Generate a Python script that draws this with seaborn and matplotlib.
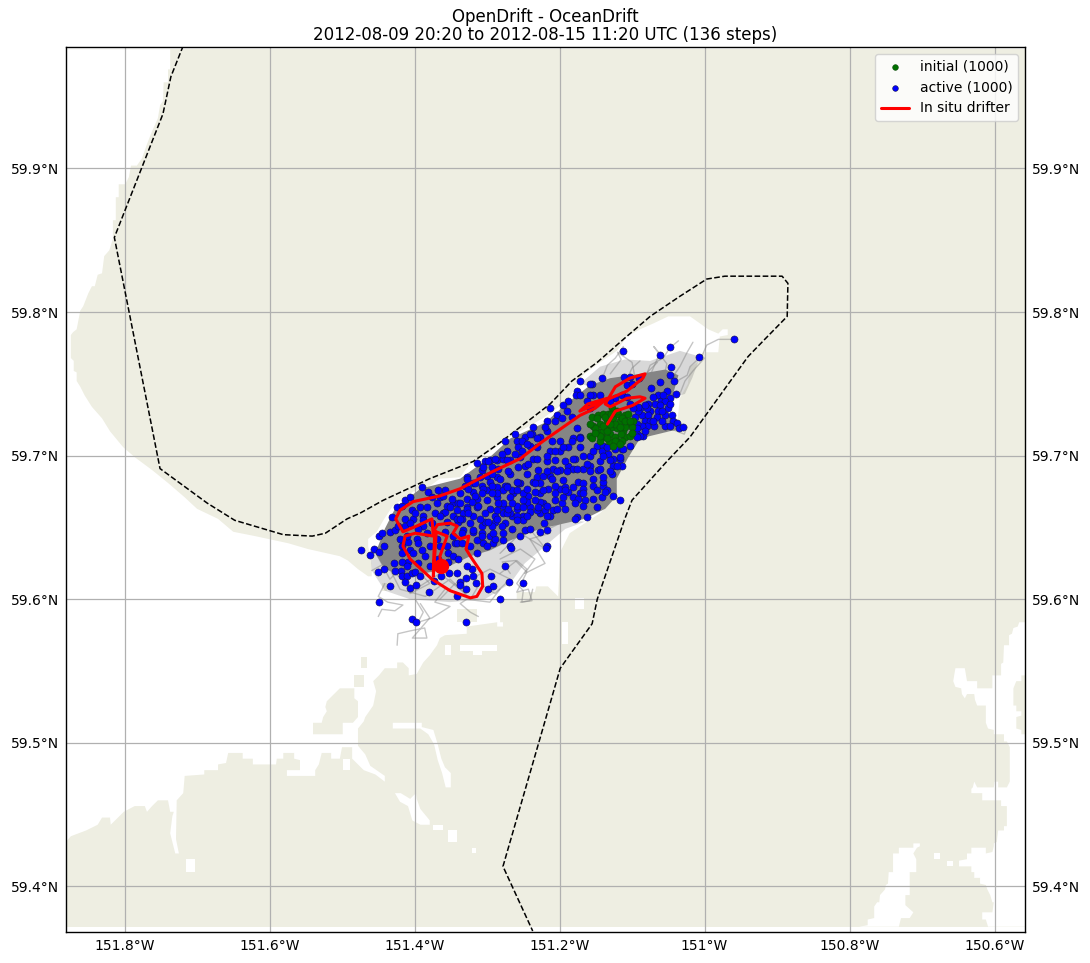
import matplotlib
matplotlib.use('Agg')
import matplotlib.pyplot as plt
import pandas as pd
import seaborn as sns

title = 'OpenDrift - OceanDrift\n2012-08-09 20:20 to 2012-08-15 11:20 UTC (136 steps)'
lon_ticks = [-151.8, -151.6, -151.4, -151.2, -151.0, -150.8, -150.6]
lon_labels = ['151.8°W', '151.6°W', '151.4°W', '151.2°W', '151°W', '150.8°W', '150.6°W']
lat_ticks = [59.4, 59.5, 59.6, 59.7, 59.8, 59.9]
lat_labels = ['59.4°N', '59.5°N', '59.6°N', '59.7°N', '59.8°N', '59.9°N']
lon_limits = (-151.8807, -150.558)
lat_limits = (59.3683, 59.9846)

# land extent, the water is cut out of it
land_lon = [-151.881, -150.558, -150.558, -151.881]
land_lat = [59.372, 59.372, 59.983, 59.983]

# inlet
water_lon = [-151.881, -151.737, -151.737, -151.740, -151.740, -151.746, -151.747, -151.751, -151.754, -151.762,
             -151.769, -151.776, -151.783, -151.791, -151.794, -151.799, -151.808, -151.808, -151.812, -151.812,
             -151.816, -151.816, -151.821, -151.828, -151.831, -151.837, -151.841, -151.845, -151.850, -151.857,
             -151.861, -151.866, -151.871, -151.874, -151.874, -151.870, -151.870, -151.866, -151.866, -151.861,
             -151.855, -151.845, -151.831, -151.820, -151.802, -151.786, -151.762, -151.740, -151.717, -151.700,
             -151.671, -151.650, -151.620, -151.574, -151.547, -151.503, -151.492, -151.478, -151.464, -151.459,
             -151.459, -151.464, -151.464, -151.452, -151.443, -151.430, -151.402, -151.381, -151.365, -151.337,
             -151.330, -151.323, -151.312, -151.296, -151.272, -151.223, -151.190, -151.168, -151.144, -151.121,
             -151.107, -151.089, -151.071, -151.050, -151.020, -151.006, -150.995, -150.981, -150.975, -150.968,
             -150.968, -150.979, -150.981, -151.002, -151.006, -151.020, -151.023, -151.034, -151.037, -151.045,
             -151.075, -151.089, -151.106, -151.121, -151.121, -151.130, -151.144, -151.165, -151.186, -151.199,
             -151.202, -151.216, -151.232, -151.234, -151.259, -151.259, -151.282, -151.282, -151.278, -151.278,
             -151.286, -151.286, -151.328, -151.328, -151.358, -151.365, -151.369, -151.379, -151.388, -151.397,
             -151.408, -151.408, -151.416, -151.424, -151.424, -151.441, -151.449, -151.457, -151.453, -151.457,
             -151.468, -151.470, -151.478, -151.478, -151.468, -151.461, -151.441, -151.441, -151.454, -151.470,
             -151.478, -151.486, -151.486, -151.500, -151.503, -151.515, -151.515, -151.528, -151.532, -151.537,
             -151.537, -151.576, -151.576, -151.558, -151.558, -151.566, -151.566, -151.581, -151.581, -151.590,
             -151.591, -151.623, -151.623, -151.637, -151.637, -151.657, -151.660, -151.671, -151.671, -151.690,
             -151.690, -151.717, -151.719, -151.728, -151.729, -151.725, -151.730, -151.737, -151.734, -151.732,
             -151.737, -151.740, -151.754, -151.762, -151.769, -151.772, -151.786, -151.801, -151.819, -151.820,
             -151.831, -151.837, -151.853, -151.874, -151.881]
water_lat = [59.983, 59.983, 59.969, 59.969, 59.960, 59.960, 59.947, 59.944, 59.935, 59.926,
             59.917, 59.907, 59.902, 59.902, 59.894, 59.889, 59.889, 59.880, 59.880, 59.864,
             59.864, 59.851, 59.843, 59.839, 59.827, 59.826, 59.818, 59.818, 59.813, 59.804,
             59.801, 59.788, 59.786, 59.784, 59.768, 59.766, 59.759, 59.758, 59.752, 59.748,
             59.742, 59.734, 59.726, 59.717, 59.706, 59.699, 59.690, 59.681, 59.671, 59.663,
             59.656, 59.647, 59.644, 59.639, 59.635, 59.630, 59.627, 59.621, 59.616, 59.616,
             59.625, 59.637, 59.642, 59.647, 59.655, 59.665, 59.675, 59.678, 59.684, 59.685,
             59.690, 59.694, 59.697, 59.703, 59.712, 59.726, 59.738, 59.756, 59.765, 59.773,
             59.783, 59.788, 59.792, 59.797, 59.797, 59.792, 59.788, 59.785, 59.788, 59.788,
             59.784, 59.783, 59.772, 59.772, 59.766, 59.762, 59.750, 59.740, 59.726, 59.717,
             59.715, 59.712, 59.698, 59.685, 59.672, 59.667, 59.660, 59.653, 59.646, 59.633,
             59.602, 59.609, 59.609, 59.605, 59.605, 59.600, 59.600, 59.584, 59.584, 59.581,
             59.581, 59.584, 59.581, 59.576, 59.575, 59.573, 59.568, 59.561, 59.556, 59.548,
             59.547, 59.552, 59.556, 59.556, 59.552, 59.552, 59.547, 59.543, 59.536, 59.526,
             59.518, 59.515, 59.510, 59.498, 59.492, 59.484, 59.477, 59.473, 59.478, 59.481,
             59.485, 59.489, 59.497, 59.497, 59.489, 59.489, 59.493, 59.493, 59.485, 59.481,
             59.477, 59.477, 59.481, 59.481, 59.488, 59.489, 59.493, 59.493, 59.489, 59.489,
             59.485, 59.485, 59.489, 59.489, 59.493, 59.493, 59.486, 59.485, 59.481, 59.481,
             59.478, 59.477, 59.465, 59.460, 59.433, 59.423, 59.423, 59.437, 59.449, 59.452,
             59.452, 59.460, 59.460, 59.456, 59.452, 59.456, 59.456, 59.452, 59.443, 59.448,
             59.448, 59.443, 59.439, 59.435, 59.431]

# right hand bay
bay_lon = [-150.558, -150.566, -150.568, -150.574, -150.576, -150.580, -150.580, -150.587, -150.588, -150.591,
           -150.591, -150.603, -150.603, -150.624, -150.624, -150.638, -150.641, -150.654, -150.657, -150.654,
           -150.646, -150.645, -150.641, -150.638, -150.628, -150.627, -150.624, -150.612, -150.612, -150.609,
           -150.601, -150.601, -150.587, -150.587, -150.583, -150.579, -150.579, -150.583, -150.595, -150.595,
           -150.600, -150.601, -150.624, -150.628, -150.630, -150.632, -150.632, -150.617, -150.617, -150.591,
           -150.591, -150.583, -150.583, -150.587, -150.587, -150.595, -150.597, -150.601, -150.601, -150.603,
           -150.612, -150.612, -150.632, -150.632, -150.638, -150.638, -150.649, -150.649, -150.632, -150.632,
           -150.628, -150.628, -150.620, -150.620, -150.612, -150.610, -150.606, -150.603, -150.601, -150.603,
           -150.617, -150.617, -150.612, -150.609, -150.558]
bay_lat = [59.584, 59.584, 59.581, 59.580, 59.576, 59.575, 59.568, 59.568, 59.556, 59.555,
           59.547, 59.547, 59.538, 59.538, 59.543, 59.543, 59.552, 59.552, 59.543, 59.539,
           59.538, 59.534, 59.531, 59.534, 59.534, 59.530, 59.526, 59.526, 59.514, 59.510,
           59.509, 59.506, 59.506, 59.501, 59.501, 59.497, 59.473, 59.469, 59.469, 59.473,
           59.473, 59.469, 59.469, 59.473, 59.469, 59.468, 59.465, 59.465, 59.460, 59.460,
           59.456, 59.456, 59.442, 59.442, 59.439, 59.439, 59.431, 59.430, 59.428, 59.424,
           59.423, 59.427, 59.427, 59.423, 59.423, 59.419, 59.418, 59.414, 59.414, 59.410,
           59.410, 59.406, 59.406, 59.402, 59.401, 59.398, 59.394, 59.389, 59.389, 59.382,
           59.382, 59.377, 59.377, 59.372, 59.372]

channel_lon = [-150.732, -150.729, -150.717, -150.712, -150.723, -150.723, -150.717, -150.717, -150.708, -150.708,
               -150.712, -150.707, -150.703, -150.703, -150.712, -150.712, -150.732, -150.732, -150.740, -150.740,
               -150.746, -150.747, -150.750, -150.751, -150.758, -150.759, -150.762, -150.766, -150.766, -150.775,
               -150.775, -150.787]
channel_lat = [59.372, 59.378, 59.378, 59.382, 59.387, 59.394, 59.394, 59.410, 59.410, 59.419,
               59.423, 59.427, 59.428, 59.430, 59.430, 59.427, 59.427, 59.423, 59.423, 59.410,
               59.410, 59.402, 59.401, 59.398, 59.394, 59.389, 59.389, 59.386, 59.378, 59.377,
               59.373, 59.372]

strip1_lon = [-151.430, -151.390, -151.390, -151.374, -151.368, -151.363, -151.358, -151.350, -151.350, -151.357,
              -151.362, -151.368, -151.373, -151.381, -151.392, -151.430]
strip1_lat = [59.514, 59.514, 59.511, 59.509, 59.499, 59.489, 59.483, 59.479, 59.469, 59.469,
              59.479, 59.488, 59.499, 59.506, 59.510, 59.510]
strip2_lon = [-151.427, -151.419, -151.406, -151.398, -151.397, -151.392, -151.379, -151.379, -151.392, -151.403,
              -151.409, -151.420]
strip2_lat = [59.465, 59.465, 59.461, 59.465, 59.461, 59.454, 59.446, 59.443, 59.443, 59.446,
              59.456, 59.459]
strip3_lon = [-151.337, -151.286, -151.286, -151.307, -151.307, -151.319, -151.319, -151.337]
strip3_lat = [59.568, 59.568, 59.564, 59.564, 59.561, 59.561, 59.564, 59.564]

# small water cells: lon0, lon1, lat0, lat1
pond_lon0 = [-151.358, -151.197, -151.179, -151.374, -151.354, -151.321, -151.499, -151.715, -150.683, -150.666]
pond_lon1 = [-151.350, -151.188, -151.166, -151.361, -151.341, -151.315, -151.489, -151.703, -150.675, -150.657]
pond_lat0 = [59.561, 59.569, 59.593, 59.439, 59.431, 59.423, 59.481, 59.410, 59.419, 59.414]
pond_lat1 = [59.568, 59.584, 59.601, 59.443, 59.439, 59.427, 59.489, 59.419, 59.423, 59.418]

island_lon = [-151.540, -151.540, -151.528, -151.526, -151.521, -151.523, -151.521, -151.511, -151.503, -151.483,
              -151.483, -151.478, -151.478, -151.485, -151.499, -151.499]
island_lat = [59.506, 59.514, 59.514, 59.518, 59.522, 59.525, 59.529, 59.534, 59.538, 59.538,
              59.531, 59.529, 59.518, 59.514, 59.514, 59.506]
island2_lon = [-150.558, -150.563, -150.563, -150.570, -150.574, -150.574, -150.570, -150.570, -150.563, -150.563,
               -150.570, -150.570, -150.563, -150.563, -150.558]
island2_lat = [59.547, 59.547, 59.543, 59.543, 59.538, 59.526, 59.526, 59.522, 59.522, 59.519,
               59.518, 59.510, 59.509, 59.506, 59.506]
# small land cells: lon0, lon1, lat0, lat1
islet_lon0 = [-151.483, -151.474, -151.341, -151.445]
islet_lon1 = [-151.470, -151.466, -151.314, -151.438]
islet_lat0 = [59.539, 59.552, 59.584, 59.606]
islet_lat1 = [59.547, 59.560, 59.593, 59.611]

# model domain outline
domain_lon = [-151.719, -151.736, -151.747, -151.814, -151.751, -151.686, -151.648, -151.581, -151.541, -151.523,
              -151.493, -151.475, -151.443, -151.379, -151.319, -151.285, -151.254, -151.213, -151.183, -151.148,
              -151.112, -151.075, -151.034, -150.997, -150.972, -150.893, -150.885, -150.886, -150.917, -150.940,
              -151.020, -151.052, -151.100, -151.110, -151.148, -151.155, -151.199, -151.227, -151.278, -151.237]
domain_lat = [59.9855, 59.964, 59.938, 59.852, 59.691, 59.667, 59.655, 59.645, 59.644, 59.646,
              59.656, 59.660, 59.669, 59.684, 59.696, 59.708, 59.720, 59.736, 59.752, 59.765,
              59.781, 59.797, 59.811, 59.823, 59.825, 59.825, 59.820, 59.797, 59.781, 59.769,
              59.713, 59.696, 59.669, 59.656, 59.600, 59.583, 59.552, 59.503, 59.414, 59.369]

# where the trajectories overlap into a solid mass
core_lon = [-151.454, -151.441, -151.427, -151.392, -151.337, -151.296, -151.268, -151.220, -151.186, -151.158,
            -151.130, -151.089, -151.054, -151.036, -151.045, -151.050, -151.025, -151.048, -151.089, -151.106,
            -151.121, -151.121, -151.137, -151.165, -151.192, -151.227, -151.268, -151.296, -151.323, -151.365,
            -151.413, -151.441]
core_lat = [59.632, 59.649, 59.663, 59.677, 59.684, 59.699, 59.712, 59.723, 59.738, 59.749,
            59.754, 59.757, 59.760, 59.756, 59.740, 59.729, 59.719, 59.717, 59.712, 59.698,
            59.684, 59.672, 59.663, 59.656, 59.653, 59.649, 59.641, 59.634, 59.630, 59.620,
            59.616, 59.621]
halo_low_lon = [-151.461, -151.459, -151.441, -151.406, -151.351, -151.303, -151.268, -151.248, -151.220, -151.192,
                -151.165, -151.199, -151.310, -151.420]
halo_low_lat = [59.635, 59.620, 59.606, 59.600, 59.598, 59.600, 59.611, 59.625, 59.637, 59.649,
                59.654, 59.656, 59.642, 59.642]
halo_up_lon = [-151.172, -151.144, -151.110, -151.075, -151.034, -151.006, -151.017, -151.027, -151.048, -151.089]
halo_up_lat = [59.750, 59.762, 59.767, 59.766, 59.773, 59.769, 59.754, 59.743, 59.740, 59.740]

# single trajectories that stick out of the mass
stray_lons = [
    [-151.450, -151.445, -151.427, -151.416, -151.437, -151.450, -151.441],
    [-151.424, -151.423, -151.406, -151.386, -151.383, -151.403, -151.379, -151.392],
    [-151.399, -151.388, -151.395, -151.376, -151.351, -151.372, -151.358],
    [-151.254, -151.238, -151.243, -151.259, -151.245, -151.261, -151.279, -151.268],
    [-151.312, -151.323, -151.337, -151.328, -151.296, -151.282],
    [-151.237, -151.241, -151.252, -151.250, -151.259, -151.245, -151.259, -151.282],
    [-151.459, -151.441, -151.453, -151.434, -151.420, -151.406, -151.379, -151.392],
    [-151.365, -151.344, -151.323, -151.310, -151.289, -151.268, -151.296, -151.323],
    [-151.441, -151.420, -151.385, -151.351, -151.330, -151.365, -151.399, -151.427],
    [-151.282, -151.254, -151.234, -151.248, -151.220, -151.241, -151.213],
    [-151.199, -151.227, -151.206, -151.241, -151.219, -151.254, -151.282],
    [-150.961, -150.981, -150.997, -151.003, -151.020, -151.024, -151.045],
    [-151.036, -151.048, -151.057, -151.075, -151.082],
    [-151.016, -151.024, -151.034, -151.045, -151.054],
    [-151.112, -151.123, -151.134, -151.144],
    [-151.089, -151.100, -151.110],
    [-151.065, -151.079, -151.089],
    [-151.000, -151.016, -151.027, -151.034],
    [-151.045, -151.024, -151.028, -151.048],
    [-151.130, -151.115, -151.120, -151.100, -151.095],
    [-151.075, -151.062, -151.070, -151.052, -151.058],
]
stray_lats = [
    [59.588, 59.593, 59.592, 59.596, 59.598, 59.602, 59.611],
    [59.568, 59.576, 59.578, 59.580, 59.573, 59.573, 59.587, 59.597],
    [59.600, 59.591, 59.584, 59.587, 59.595, 59.598, 59.607],
    [59.598, 59.599, 59.607, 59.605, 59.619, 59.627, 59.626, 59.618],
    [59.588, 59.591, 59.597, 59.600, 59.598, 59.607],
    [59.607, 59.599, 59.598, 59.606, 59.611, 59.621, 59.627, 59.618],
    [59.620, 59.625, 59.632, 59.614, 59.621, 59.604, 59.611, 59.618],
    [59.600, 59.611, 59.600, 59.611, 59.604, 59.614, 59.621, 59.614],
    [59.628, 59.607, 59.602, 59.614, 59.604, 59.618, 59.607, 59.618],
    [59.628, 59.635, 59.628, 59.618, 59.625, 59.642, 59.646],
    [59.653, 59.646, 59.660, 59.649, 59.635, 59.646, 59.632],
    [59.781, 59.781, 59.777, 59.770, 59.762, 59.756, 59.750],
    [59.780, 59.775, 59.768, 59.763, 59.754],
    [59.779, 59.772, 59.762, 59.754, 59.743],
    [59.776, 59.768, 59.763, 59.750],
    [59.766, 59.761, 59.750],
    [59.765, 59.758, 59.750],
    [59.768, 59.759, 59.752, 59.743],
    [59.722, 59.720, 59.715, 59.719],
    [59.757, 59.767, 59.772, 59.765, 59.752],
    [59.756, 59.771, 59.776, 59.764, 59.750],
]

# drifter
drifter_lon = [-151.134, -151.123, -151.099, -151.082, -151.089, -151.107, -151.130, -151.137, -151.123, -151.103,
               -151.082, -151.085, -151.107, -151.130, -151.158, -151.172, -151.161, -151.134, -151.151, -151.172,
               -151.223, -151.254, -151.292, -151.337, -151.365, -151.402, -151.420, -151.426, -151.416, -151.397,
               -151.376, -151.374, -151.399, -151.413, -151.416, -151.406, -151.376, -151.351, -151.323, -151.314,
               -151.306, -151.307, -151.323, -151.329, -151.325, -151.337, -151.347, -151.341, -151.351, -151.368,
               -151.372, -151.374, -151.374, -151.370, -151.355, -151.365, -151.363]
drifter_lat = [59.722, 59.731, 59.735, 59.740, 59.741, 59.740, 59.734, 59.736, 59.748, 59.754,
               59.757, 59.754, 59.745, 59.740, 59.734, 59.731, 59.736, 59.740, 59.733, 59.728,
               59.710, 59.698, 59.689, 59.677, 59.672, 59.668, 59.662, 59.656, 59.647, 59.651,
               59.656, 59.644, 59.646, 59.644, 59.637, 59.628, 59.614, 59.606, 59.601, 59.602,
               59.609, 59.618, 59.630, 59.635, 59.644, 59.642, 59.646, 59.651, 59.653, 59.652,
               59.649, 59.621, 59.616, 59.647, 59.644, 59.630, 59.623]

initial_lon = [-151.155, -151.154, -151.158, -151.147, -151.144, -151.148, -151.140, -151.134, -151.137, -151.141,
               -151.128, -151.126, -151.128, -151.130, -151.132, -151.119, -151.117, -151.121, -151.123, -151.121,
               -151.110, -151.106, -151.107, -151.112, -151.110, -151.103, -151.099, -151.100, -151.114, -151.148,
               -151.151, -151.133, -151.123, -151.115, -151.140, -151.144, -151.155, -151.123, -151.114,
               -151.137, -151.129, -151.140, -151.130, -151.110, -151.144, -151.134, -151.117, -151.110, -151.121,
               -151.103, -151.151, -151.100, -151.117, -151.126, -151.158, -151.134]
initial_lat = [59.727, 59.721, 59.714, 59.728, 59.722, 59.717, 59.729, 59.724, 59.719, 59.713,
               59.733, 59.726, 59.720, 59.715, 59.710, 59.729, 59.724, 59.719, 59.713, 59.710,
               59.728, 59.729, 59.722, 59.717, 59.713, 59.714, 59.724, 59.720, 59.726, 59.726,
               59.719, 59.729, 59.722, 59.715, 59.717, 59.710, 59.712, 59.710, 59.710,
               59.727, 59.729, 59.721, 59.722, 59.720, 59.714, 59.712, 59.720, 59.724, 59.731,
               59.724, 59.716, 59.716, 59.708, 59.707, 59.722, 59.717]

active_lon = [
    -150.959, -151.048, -151.112, -151.061, -151.008, -151.046, -151.048, -151.141, -151.042, -151.061,
    -151.111, -151.103, -151.090, -151.107, -151.100, -151.155, -151.074, -151.052, -151.039, -151.154,
    -151.064, -151.071, -151.048, -151.060, -151.054, -151.068, -151.050, -151.078, -151.061, -151.089,
    -151.075, -151.064, -151.086, -151.078, -151.054, -151.045, -151.082, -151.075, -151.043, -151.038,
    -151.054, -151.048, -151.035, -151.030, -151.070, -151.079, -151.086, -151.093, -151.096, -151.092,
    -151.085, -151.093,
    -151.172, -151.158, -151.176, -151.177, -151.172, -151.158, -151.162, -151.213, -151.188, -151.195,
    -151.203, -151.190, -151.183, -151.217, -151.237, -151.261, -151.238, -151.206, -151.197, -151.176,
    -151.181, -151.172, -151.217, -151.227, -151.248, -151.259, -151.275, -151.241, -151.231, -151.210,
    -151.199, -151.188, -151.213, -151.199, -151.172, -151.148, -151.140, -151.123, -151.103, -151.089,
    -151.114, -151.141, -151.133, -151.158, -151.179, -151.117, -151.126, -151.144, -151.126, -151.114,
    -151.168, -151.188, -151.199, -151.217, -151.237, -151.254, -151.268, -151.248, -151.230, -151.181,
    -151.158, -151.147, -151.128, -151.154, -151.140, -151.175, -151.213, -151.237, -151.254, -151.272,
    -151.199, -151.216, -151.181, -151.134, -151.126, -151.154, -151.141, -151.117, -151.148, -151.172,
    -151.188, -151.165, -151.181, -151.227, -151.243, -151.264, -151.206, -151.223, -151.197, -151.241,
    -151.259, -151.278, -151.209, -151.227, -151.250, -151.265, -151.213, -151.176, -151.162,
    -151.314, -151.307, -151.303, -151.296, -151.293, -151.286, -151.285, -151.272, -151.278, -151.252,
    -151.257, -151.245, -151.261, -151.252, -151.241, -151.231, -151.220, -151.328, -151.319, -151.330,
    -151.310, -151.300, -151.296, -151.286, -151.307, -151.319, -151.300, -151.286, -151.275, -151.278,
    -151.265, -151.257, -151.245, -151.231, -151.223, -151.209, -151.227, -151.206, -151.192, -151.168,
    -151.140, -151.234, -151.250, -151.268, -151.286, -151.300, -151.314, -151.328, -151.337, -151.347,
    -151.358, -151.365, -151.328, -151.314, -151.296, -151.278, -151.259, -151.245, -151.227, -151.195,
    -151.174, -151.168, -151.179, -151.203, -151.220, -151.241, -151.259, -151.278, -151.268, -151.289,
    -151.303, -151.319, -151.333, -151.347, -151.361, -151.340, -151.323, -151.307, -151.289, -151.275,
    -151.307, -151.296, -151.278, -151.248, -151.217, -151.221, -151.179, -151.250, -151.268, -151.217,
    -151.344, -151.306, -151.292,
    -151.474, -151.461, -151.456, -151.449, -151.442, -151.449, -151.445, -151.434, -151.427, -151.431,
    -151.424, -151.417, -151.413, -151.406, -151.390, -151.381, -151.368, -151.376, -151.361, -151.392,
    -151.403, -151.383, -151.369, -151.348, -151.340, -151.328, -151.413, -151.402, -151.388, -151.372,
    -151.358, -151.341, -151.328, -151.355, -151.334, -151.293, -151.279, -151.413, -151.388, -151.397,
    -151.409, -151.417, -151.395, -151.379, -151.406, -151.417, -151.402, -151.355, -151.341, -151.334,
    -151.314, -151.307, -151.300, -151.289, -151.314, -151.267, -151.219, -151.354, -151.347, -151.386,
    -151.409, -151.428, -151.419, -151.442, -151.450, -151.417, -151.410, -151.403, -151.399, -151.392,
    -151.413, -151.434, -151.406, -151.398, -151.380, -151.373, -151.363, -151.352, -151.341, -151.321,
    -151.319, -151.329, -151.337, -151.315, -151.337, -151.329, -151.341, -151.299, -151.292, -151.270,
    -151.250, -151.282, -151.294, -151.275, -151.449, -151.403, -151.398, -151.329,
    -151.306, -151.299, -151.289, -151.279, -151.272, -151.293, -151.317, -151.326, -151.317, -151.306,
    -151.293, -151.282, -151.268, -151.259, -151.272, -151.286, -151.312, -151.326, -151.341, -151.355,
    -151.365, -151.376, -151.388, -151.399, -151.406, -151.395, -151.423, -151.410, -151.420, -151.383,
    -151.369, -151.358, -151.347, -151.333, -151.319, -151.303, -151.286, -151.272, -151.259, -151.245,
    -151.231, -151.217, -151.265, -151.254, -151.241, -151.227, -151.278, -151.292, -151.323, -151.365,
    -151.390, -151.368, -151.354, -151.379, -151.395, -151.417, -151.328, -151.340, -151.410, -151.427,
    -151.271, -151.257, -151.243, -151.231, -151.217, -151.206, -151.195, -151.183, -151.172, -151.206,
    -151.192, -151.181, -151.168, -151.154, -151.140, -151.130, -151.117, -151.112, -151.134, -151.162,
    -151.176, -151.190, -151.203, -151.217, -151.158, -151.144, -151.130, -151.121, -151.140, -151.154,
    -151.168, -151.195, -151.210, -151.223, -151.206, -151.192, -151.168, -151.148, -151.137, -151.234,
    -151.245, -151.259, -151.250, -151.265, -151.285, -151.293, -151.307, -151.321, -151.337, -151.351,
    -151.234, -151.217, -151.192, -151.230, -151.250, -151.271, -151.286, -151.310, -151.299, -151.337,
    -151.319, -151.334, -151.079, -151.059, -151.066, -151.059, -151.071, -151.057, -151.048, -151.082,
    -151.092, -151.099, -151.103, -151.114, -151.123, -151.107, -151.130, -151.144, -151.151, -151.158,
    -151.093, -151.082, -151.093,
]
active_lat = [
    59.781, 59.776, 59.773, 59.770, 59.769, 59.762, 59.756, 59.754, 59.752, 59.751,
    59.755, 59.755, 59.754, 59.749, 59.750, 59.750, 59.747, 59.745, 59.743, 59.742,
    59.742, 59.741, 59.740, 59.738, 59.738, 59.736, 59.733, 59.736, 59.735, 59.733,
    59.731, 59.731, 59.728, 59.728, 59.728, 59.728, 59.724, 59.724, 59.724, 59.723,
    59.721, 59.721, 59.719, 59.720, 59.721, 59.721, 59.721, 59.722, 59.727, 59.731,
    59.714, 59.715,
    59.752, 59.750, 59.745, 59.742, 59.742, 59.742, 59.738, 59.733, 59.738, 59.735,
    59.728, 59.731, 59.727, 59.724, 59.720, 59.715, 59.715, 59.724, 59.726, 59.719,
    59.712, 59.713, 59.717, 59.713, 59.713, 59.710, 59.710, 59.707, 59.706, 59.710,
    59.710, 59.706, 59.703, 59.703, 59.706, 59.707, 59.707, 59.705, 59.707, 59.714,
    59.705, 59.703, 59.701, 59.700, 59.698, 59.698, 59.698, 59.696, 59.693, 59.693,
    59.691, 59.693, 59.690, 59.696, 59.698, 59.699, 59.697, 59.693, 59.690, 59.691,
    59.693, 59.690, 59.687, 59.684, 59.679, 59.682, 59.686, 59.682, 59.681, 59.679,
    59.677, 59.677, 59.678, 59.676, 59.672, 59.670, 59.671, 59.669, 59.664, 59.674,
    59.675, 59.669, 59.671, 59.674, 59.672, 59.674, 59.669, 59.667, 59.667, 59.664,
    59.663, 59.665, 59.662, 59.660, 59.658, 59.658, 59.658, 59.657, 59.657,
    59.695, 59.690, 59.696, 59.697, 59.692, 59.697, 59.691, 59.703, 59.698, 59.710,
    59.706, 59.708, 59.701, 59.703, 59.715, 59.712, 59.720, 59.685, 59.681, 59.679,
    59.685, 59.686, 59.682, 59.685, 59.679, 59.675, 59.676, 59.678, 59.679, 59.676,
    59.676, 59.681, 59.687, 59.685, 59.686, 59.691, 59.681, 59.679, 59.678, 59.681,
    59.682, 59.675, 59.674, 59.671, 59.671, 59.669, 59.670, 59.670, 59.674, 59.667,
    59.676, 59.671, 59.664, 59.664, 59.663, 59.667, 59.665, 59.668, 59.668, 59.671,
    59.670, 59.665, 59.667, 59.663, 59.662, 59.661, 59.658, 59.660, 59.660, 59.658,
    59.660, 59.658, 59.660, 59.658, 59.660, 59.654, 59.653, 59.651, 59.654, 59.653,
    59.646, 59.644, 59.641, 59.648, 59.648, 59.653, 59.656, 59.655, 59.637, 59.637,
    59.639, 59.639, 59.639,
    59.634, 59.631, 59.635, 59.633, 59.637, 59.644, 59.646, 59.647, 59.648, 59.657,
    59.664, 59.665, 59.669, 59.671, 59.678, 59.675, 59.676, 59.671, 59.672, 59.664,
    59.662, 59.664, 59.667, 59.670, 59.667, 59.684, 59.656, 59.656, 59.658, 59.660,
    59.661, 59.662, 59.663, 59.654, 59.656, 59.651, 59.651, 59.651, 59.651, 59.642,
    59.640, 59.637, 59.639, 59.637, 59.634, 59.632, 59.632, 59.637, 59.639, 59.639,
    59.641, 59.644, 59.637, 59.642, 59.632, 59.636, 59.636, 59.632, 59.630, 59.630,
    59.626, 59.625, 59.620, 59.621, 59.619, 59.616, 59.616, 59.618, 59.619, 59.616,
    59.612, 59.609, 59.608, 59.610, 59.605, 59.613, 59.616, 59.618, 59.618, 59.621,
    59.616, 59.615, 59.612, 59.611, 59.610, 59.607, 59.602, 59.607, 59.609, 59.612,
    59.611, 59.600, 59.616, 59.623, 59.598, 59.586, 59.584, 59.584,
    59.692, 59.696, 59.698, 59.701, 59.697, 59.687, 59.681, 59.677, 59.672, 59.677,
    59.679, 59.684, 59.687, 59.682, 59.678, 59.674, 59.665, 59.660, 59.656, 59.665,
    59.658, 59.653, 59.655, 59.660, 59.653, 59.649, 59.651, 59.644, 59.642, 59.646,
    59.642, 59.647, 59.644, 59.648, 59.647, 59.654, 59.656, 59.660, 59.655, 59.658,
    59.662, 59.658, 59.649, 59.644, 59.649, 59.647, 59.646, 59.646, 59.637, 59.637,
    59.634, 59.628, 59.626, 59.623, 59.625, 59.626, 59.623, 59.628, 59.623, 59.620,
    59.689, 59.692, 59.694, 59.698, 59.700, 59.703, 59.706, 59.710, 59.712, 59.697,
    59.696, 59.698, 59.700, 59.703, 59.700, 59.697, 59.699, 59.705, 59.706, 59.694,
    59.691, 59.689, 59.689, 59.689, 59.689, 59.691, 59.689, 59.693, 59.685, 59.679,
    59.677, 59.683, 59.684, 59.676, 59.674, 59.676, 59.674, 59.676, 59.675, 59.681,
    59.677, 59.676, 59.669, 59.667, 59.667, 59.674, 59.674, 59.668, 59.667, 59.664,
    59.669, 59.665, 59.663, 59.664, 59.664, 59.663, 59.662, 59.656, 59.654, 59.656,
    59.648, 59.646, 59.733, 59.731, 59.727, 59.724, 59.724, 59.742, 59.736, 59.735,
    59.734, 59.733, 59.736, 59.742, 59.740, 59.741, 59.738, 59.742, 59.736, 59.733,
    59.719, 59.717, 59.713,
]

land_color = '#eeeee2'
sns.set_style('white', {'text.color': 'black', 'axes.labelcolor': 'black',
                        'xtick.color': 'black', 'ytick.color': 'black'})
fig = plt.figure(figsize=(10.9, 9.63), dpi=100)
ax = fig.add_axes([66 / 1090, 31 / 963, 959 / 1090, 885 / 963])

# land and water
ax.fill(land_lon, land_lat, color=land_color, lw=0, zorder=0.1)
for lons, lats in [(water_lon, water_lat), (bay_lon, bay_lat), (channel_lon, channel_lat),
                   (strip1_lon, strip1_lat), (strip2_lon, strip2_lat), (strip3_lon, strip3_lat)]:
    ax.fill(lons, lats, color='white', lw=0, zorder=0.2)
for i in range(len(pond_lon0)):
    ax.fill([pond_lon0[i], pond_lon1[i], pond_lon1[i], pond_lon0[i]],
            [pond_lat0[i], pond_lat0[i], pond_lat1[i], pond_lat1[i]], color='white', lw=0, zorder=0.2)
ax.fill(island_lon, island_lat, color=land_color, lw=0, zorder=0.3)
ax.fill(island2_lon, island2_lat, color=land_color, lw=0, zorder=0.3)
for i in range(len(islet_lon0)):
    ax.fill([islet_lon0[i], islet_lon1[i], islet_lon1[i], islet_lon0[i]],
            [islet_lat0[i], islet_lat0[i], islet_lat1[i], islet_lat1[i]], color=land_color, lw=0, zorder=0.3)

# trajectories
ax.fill(halo_low_lon, halo_low_lat, color='gray', alpha=0.28, lw=0, zorder=2)
ax.fill(halo_up_lon, halo_up_lat, color='gray', alpha=0.3, lw=0, zorder=2)
ax.fill(core_lon, core_lat, color='#858585', lw=0, zorder=2.2)
stray = pd.DataFrame({
    'lon': [v for row in stray_lons for v in row],
    'lat': [v for row in stray_lats for v in row],
    'track': [i for i, row in enumerate(stray_lons) for _ in row],
})
sns.lineplot(data=stray, x='lon', y='lat', units='track', estimator=None, sort=False,
             color='gray', alpha=0.45, lw=1, ax=ax, zorder=2.1)

# domain outline
sns.lineplot(x=domain_lon, y=domain_lat, sort=False, estimator=None, color='black', lw=1.1,
             linestyle='--', ax=ax, zorder=3)

sns.scatterplot(x=active_lon, y=active_lat, color='#0000ff', s=26, edgecolor='#15154a', linewidth=0.4,
                label='active (1000)', ax=ax, zorder=5)
sns.scatterplot(x=initial_lon, y=initial_lat, color='#007000', s=26, edgecolor='#0c4a0c', linewidth=0.4,
                label='initial (1000)', ax=ax, zorder=6)
sns.lineplot(x=drifter_lon, y=drifter_lat, sort=False, estimator=None, color='red', lw=2.2,
             label='In situ drifter', ax=ax, zorder=7)
ax.plot(drifter_lon[-1], drifter_lat[-1], 'o', color='red', ms=11, mew=0, zorder=8)

ax.set_xlim(lon_limits)
ax.set_ylim(lat_limits)
ax.set_xticks(lon_ticks, lon_labels)
ax.set_yticks(lat_ticks, lat_labels)
ax.set_xlabel('')
ax.set_ylabel('')
ax.set_axisbelow(True)
ax.grid(True, color='#b0b0b0', lw=0.9)
ax.tick_params(length=0, labelsize=10, labelleft=True, labelright=True, left=False, right=False, pad=5)
for spine in ax.spines.values():
    spine.set_color('black')
    spine.set_linewidth(1.0)
ax.set_title(title, fontsize=12, pad=5, linespacing=1.0)

handles, labels = ax.get_legend_handles_labels()
order = [labels.index('initial (1000)'), labels.index('active (1000)'), labels.index('In situ drifter')]
leg = ax.legend([handles[i] for i in order], [labels[i] for i in order], loc='upper right', fontsize=10,
                markerscale=0.8)
leg.set_zorder(20)

fig.savefig('out.png', dpi=100)
